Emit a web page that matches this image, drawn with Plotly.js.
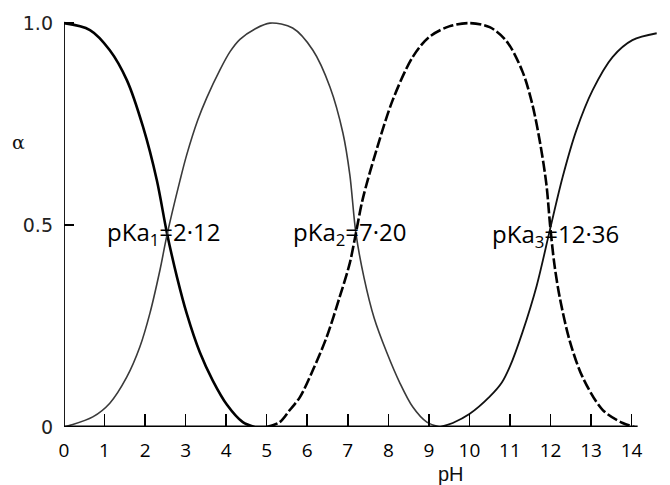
<!DOCTYPE html>
<html>
<head>
<meta charset="utf-8">
<script src="https://cdn.plot.ly/plotly-3.0.1.min.js"></script>
<style>html,body{margin:0;padding:0;background:#fff;}#chart{width:670px;height:485px;}</style>
</head>
<body>
<div id="chart"></div>
<script>
// Species fractions
const ph_H3PO4 = [0, 0.64, 1.13, 1.55, 1.95, 2.29, 2.54, 2.79, 3.03, 3.35, 3.67, 4.02, 4.41, 4.7];
const a_H3PO4  = [1.0, 0.983, 0.933, 0.859, 0.743, 0.611, 0.48, 0.37, 0.28, 0.185, 0.115, 0.055, 0.012, 0];

const ph_H2PO4 = [0, 0.15, 0.71, 1.13, 1.55, 1.87, 2.12, 2.37, 2.54, 2.86, 3.03, 3.3, 3.52, 3.85, 4.1, 4.34, 4.7, 5.08, 5.64, 6.14, 6.56, 6.88, 7.05, 7.2, 7.4, 7.65, 7.96, 8.28, 8.6, 8.95, 9.27];
const a_H2PO4  = [0, 0.004, 0.025, 0.059, 0.124, 0.198, 0.282, 0.39, 0.475, 0.61, 0.675, 0.76, 0.815, 0.885, 0.93, 0.96, 0.985, 1.0, 0.988, 0.933, 0.842, 0.728, 0.625, 0.48, 0.37, 0.27, 0.185, 0.11, 0.05, 0.012, 0];

const ph_HPO4 = [5.0, 5.32, 5.57, 5.82, 6.14, 6.48, 6.80, 7.05, 7.2, 7.37, 7.72, 8.11, 8.6, 9.0, 9.5, 10.0, 10.5, 10.92, 11.31, 11.55, 11.75, 11.9, 11.99, 12.1, 12.23, 12.47, 12.79, 13.29, 13.78, 14.07];
const a_HPO4  = [0, 0.012, 0.042, 0.074, 0.141, 0.223, 0.322, 0.406, 0.48, 0.565, 0.69, 0.81, 0.916, 0.965, 0.992, 1.0, 0.99, 0.955, 0.88, 0.8, 0.7, 0.6, 0.5, 0.4, 0.32, 0.215, 0.124, 0.042, 0.01, 0];

const ph_PO4 = [9.27, 9.59, 10.0, 10.5, 10.8, 11.0, 11.31, 11.66, 11.99, 12.3, 12.64, 13.04, 13.53, 14.02, 14.62];
const a_PO4  = [0, 0.01, 0.032, 0.075, 0.11, 0.15, 0.235, 0.35, 0.49, 0.619, 0.735, 0.834, 0.916, 0.958, 0.975];

const xTickVals = [0,1,2,3,4,5,6,7,8,9,10,11,12,13,14];
const xTickText = ['0','1','2','3','4','5','6','7','8','9','10','11','12','13','14'];
const yTickVals = [0, 0.5, 1.0];
const yTickText = ['0', '0.5', '1.0'];

const pkaLabels = ['pKa<sub>1</sub>=2·12', 'pKa<sub>2</sub>=7·20', 'pKa<sub>3</sub>=12·36'];
const pkaLabelX = [1.0, 5.6, 10.5];
const pkaLabelY = [0.48, 0.48, 0.475];

const traces = [
  {x: ph_H3PO4, y: a_H3PO4, mode: 'lines', line: {color: '#000', width: 2.6, shape: 'spline', smoothing: 0.9}, hoverinfo: 'skip'},
  {x: ph_H2PO4, y: a_H2PO4, mode: 'lines', line: {color: '#3a3a3a', width: 1.6, shape: 'spline', smoothing: 0.9}, hoverinfo: 'skip'},
  {x: ph_HPO4, y: a_HPO4, mode: 'lines', line: {color: '#000', width: 2.6, shape: 'spline', smoothing: 0.9, dash: '11px,3px'}, hoverinfo: 'skip'},
  {x: ph_PO4, y: a_PO4, mode: 'lines', line: {color: '#111', width: 1.8, shape: 'spline', smoothing: 0.9}, hoverinfo: 'skip'}
];

const W = 670, H = 485, mL = 64, mR = 6, mT = 7, mB = 58;
const px2paperX = px => (px - mL) / (W - mL - mR);
const px2paperY = py => 1 - (py - mT) / (H - mT - mB);

const annotations = pkaLabels.map((t, i) => ({
  x: pkaLabelX[i], y: pkaLabelY[i], xref: 'x', yref: 'y', text: t,
  showarrow: false, xanchor: 'left', yanchor: 'middle',
  font: {family: 'Open Sans', size: 24, color: '#000'}
}));
annotations.push({x: px2paperX(451), y: px2paperY(474), xref: 'paper', yref: 'paper', text: 'pH', showarrow: false,
  font: {family: 'Liberation Sans', size: 20, color: '#111'}, xanchor: 'center', yanchor: 'middle'});
annotations.push({x: px2paperX(18), y: px2paperY(142), xref: 'paper', yref: 'paper', text: 'α', showarrow: false,
  font: {family: 'DejaVu Serif', size: 19, color: '#111'}, xanchor: 'center', yanchor: 'middle'});

const layout = {
  width: W, height: H,
  margin: {l: mL, r: mR, t: mT, b: mB, pad: 0},
  paper_bgcolor: '#fff', plot_bgcolor: '#fff',
  showlegend: false,
  xaxis: {
    range: [0, 14.8], showgrid: false, zeroline: false, showline: false,
    tickmode: 'array', tickvals: xTickVals, ticktext: xTickText,
    ticks: 'inside', ticklen: 13, tickwidth: 1.5, tickcolor: '#000',
    ticklabelstandoff: 10,
    tickfont: {family: 'Open Sans', size: 19, color: '#000'}
  },
  yaxis: {
    range: [0, 1.04], showgrid: false, zeroline: false, showline: false,
    tickmode: 'array', tickvals: yTickVals, ticktext: yTickText,
    ticks: 'inside', ticklen: 10, tickwidth: 1.5, tickcolor: '#000',
    ticklabelstandoff: 10,
    tickfont: {family: 'DejaVu Sans', size: 19, color: '#222'}
  },
  shapes: [
    {type: 'line', xref: 'x', yref: 'y', x0: 0, x1: 0, y0: 0, y1: 1.0, line: {color: '#000', width: 1.8}},
    {type: 'line', xref: 'x', yref: 'y', x0: 0, x1: 14.15, y0: 0, y1: 0, line: {color: '#000', width: 3}}
  ],
  annotations: annotations
};

Plotly.newPlot('chart', traces, layout, {displayModeBar: false, staticPlot: true});
</script>
</body>
</html>
